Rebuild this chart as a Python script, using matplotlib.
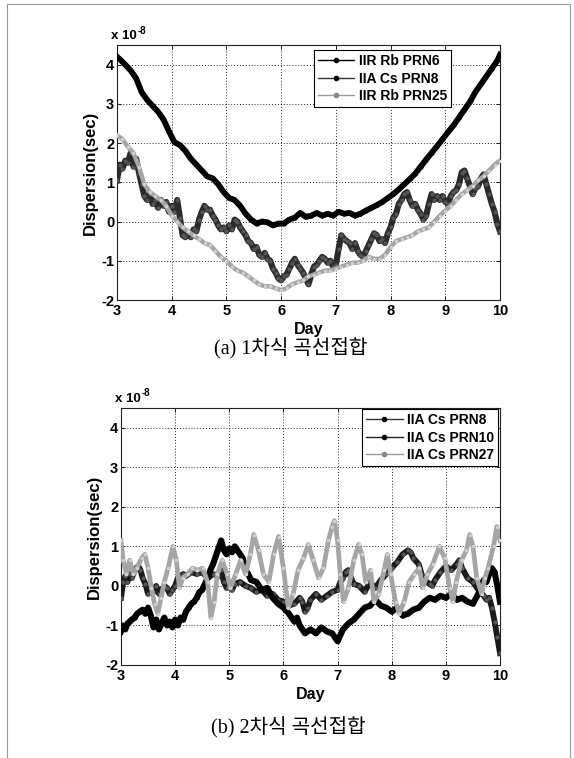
import matplotlib
matplotlib.use("Agg")
import matplotlib.pyplot as plt
from matplotlib.lines import Line2D
from matplotlib.patches import Rectangle

# ---------------- data (units of 1e-8 s) ----------------
day_ticks = [3, 4, 5, 6, 7, 8, 9, 10]
val_ticks = [-2, -1, 0, 1, 2, 3, 4]

# (a) first-order fit
a6_day = [3.00, 3.08, 3.15, 3.25, 3.35, 3.45, 3.55, 3.65, 3.75, 3.85, 3.95, 4.05, 4.15,
          4.25, 4.35, 4.45, 4.55, 4.65, 4.75, 4.85, 4.95, 5.05, 5.15, 5.25, 5.35, 5.45,
          5.55, 5.65, 5.75, 5.85, 5.95, 6.05, 6.15, 6.25, 6.35, 6.45, 6.55, 6.65, 6.75,
          6.85, 6.95, 7.05, 7.15, 7.25, 7.35, 7.45, 7.55, 7.65, 7.75, 7.85, 7.95, 8.05,
          8.15, 8.25, 8.35, 8.45, 8.55, 8.65, 8.75, 8.85, 8.95, 9.05, 9.15, 9.25, 9.35,
          9.45, 9.55, 9.65, 9.75, 9.85, 9.95, 10.00]
a6_val = [4.20, 4.10, 4.00, 3.85, 3.65, 3.30, 3.10, 2.95, 2.80, 2.60, 2.30, 2.02, 1.95,
          1.80, 1.60, 1.45, 1.30, 1.15, 1.10, 0.95, 0.75, 0.60, 0.55, 0.40, 0.20, 0.05,
          -0.05, 0.00, -0.02, -0.10, -0.05, -0.05, 0.05, 0.10, 0.22, 0.12, 0.15, 0.22,
          0.15, 0.20, 0.15, 0.25, 0.20, 0.22, 0.15, 0.20, 0.28, 0.35, 0.42, 0.50, 0.60,
          0.70, 0.82, 0.95, 1.08, 1.22, 1.40, 1.58, 1.75, 1.92, 2.10, 2.28, 2.45, 2.65,
          2.85, 3.05, 3.30, 3.50, 3.70, 3.90, 4.10, 4.25]

a8_day = [3.00, 3.05, 3.10, 3.15, 3.20, 3.25, 3.30, 3.35, 3.40, 3.45, 3.50, 3.55, 3.60,
          3.65, 3.70, 3.75, 3.80, 3.85, 3.90, 3.95, 4.00, 4.05, 4.10, 4.15, 4.20, 4.25,
          4.30, 4.35, 4.40, 4.45, 4.50, 4.55, 4.60, 4.65, 4.70, 4.75, 4.80, 4.85, 4.90,
          4.95, 5.00, 5.05, 5.10, 5.15, 5.20, 5.25, 5.30, 5.35, 5.40, 5.45, 5.50, 5.55,
          5.60, 5.65, 5.70, 5.75, 5.80, 5.85, 5.90, 5.95, 6.00, 6.05, 6.10, 6.15, 6.20,
          6.25, 6.30, 6.35, 6.40, 6.45, 6.50, 6.55, 6.60, 6.65, 6.70, 6.75, 6.80, 6.85,
          6.90, 6.95, 7.00, 7.05, 7.10, 7.15, 7.20, 7.25, 7.30, 7.35, 7.40, 7.45, 7.50,
          7.55, 7.60, 7.65, 7.70, 7.75, 7.80, 7.85, 7.90, 7.95, 8.00, 8.05, 8.10, 8.15,
          8.20, 8.25, 8.30, 8.35, 8.40, 8.45, 8.50, 8.55, 8.60, 8.65, 8.70, 8.75, 8.80,
          8.85, 8.90, 8.95, 9.00, 9.05, 9.10, 9.15, 9.20, 9.25, 9.30, 9.35, 9.40, 9.45,
          9.50, 9.55, 9.60, 9.65, 9.70, 9.75, 9.80, 9.85, 9.90, 9.95, 10.00]
a8_val = [1.05, 1.45, 1.35, 1.55, 1.50, 1.75, 1.40, 1.60, 1.25, 0.95, 0.65, 0.55, 0.70,
          0.45, 0.55, 0.35, 0.55, 0.40, 0.50, 0.25, 0.40, 0.25, 0.55, 0.10, -0.35, -0.40,
          -0.30, -0.40, -0.20, -0.25, 0.05, 0.25, 0.40, 0.30, 0.30, 0.15, 0.05, -0.10,
          -0.20, -0.15, -0.25, -0.10, -0.20, 0.05, 0.00, -0.15, -0.25, -0.35, -0.50, -0.55,
          -0.70, -0.65, -0.85, -0.90, -0.80, -0.95, -1.00, -1.20, -1.30, -1.45, -1.50,
          -1.40, -1.35, -1.20, -1.05, -0.95, -1.10, -1.20, -1.30, -1.45, -1.60, -1.35,
          -1.15, -1.10, -1.00, -0.90, -0.95, -1.05, -1.00, -1.15, -1.10, -0.70, -0.35,
          -0.45, -0.50, -0.55, -0.70, -0.55, -0.75, -0.85, -0.90, -0.75, -0.60, -0.45,
          -0.30, -0.35, -0.50, -0.45, -0.55, -0.30, -0.15, 0.10, 0.20, 0.45, 0.55, 0.70,
          0.75, 0.55, 0.40, 0.45, 0.30, 0.20, 0.05, 0.15, 0.45, 0.70, 0.55, 0.65, 0.55,
          0.65, 0.50, 0.45, 0.65, 0.75, 0.80, 0.95, 1.25, 1.30, 1.10, 0.90, 0.70, 0.85,
          0.90, 1.10, 1.20, 0.95, 0.70, 0.45, 0.25, -0.05, -0.25]

a25_day = [3.00, 3.10, 3.20, 3.30, 3.40, 3.50, 3.60, 3.70, 3.80, 3.90, 4.00, 4.10, 4.20,
           4.30, 4.40, 4.50, 4.60, 4.70, 4.80, 4.90, 5.00, 5.10, 5.20, 5.30, 5.40, 5.50,
           5.60, 5.70, 5.80, 5.90, 6.00, 6.10, 6.20, 6.30, 6.40, 6.50, 6.60, 6.70, 6.80,
           6.90, 7.00, 7.10, 7.20, 7.30, 7.40, 7.50, 7.60, 7.70, 7.80, 7.90, 8.00, 8.10,
           8.20, 8.30, 8.40, 8.50, 8.60, 8.70, 8.80, 8.90, 9.00, 9.10, 9.20, 9.30, 9.40,
           9.50, 9.60, 9.70, 9.80, 9.90, 10.00]
a25_val = [2.20, 2.10, 1.90, 1.75, 1.40, 0.95, 0.75, 0.65, 0.55, 0.40, 0.15, 0.00, -0.15,
           -0.25, -0.35, -0.45, -0.55, -0.60, -0.75, -0.90, -1.00, -1.15, -1.25, -1.30,
           -1.40, -1.50, -1.60, -1.65, -1.65, -1.70, -1.75, -1.70, -1.60, -1.55, -1.50,
           -1.40, -1.35, -1.30, -1.25, -1.25, -1.20, -1.15, -1.10, -1.05, -1.05, -1.00,
           -0.90, -0.95, -0.95, -0.85, -0.65, -0.50, -0.45, -0.40, -0.35, -0.25, -0.20,
           -0.15, 0.00, 0.15, 0.28, 0.40, 0.55, 0.70, 0.80, 0.90, 1.05, 1.15, 1.30, 1.45,
           1.55]

# (b) second-order fit
b8_day = [3.00, 3.04, 3.08, 3.12, 3.16, 3.20, 3.24, 3.28, 3.32, 3.36, 3.40, 3.45, 3.50,
          3.55, 3.60, 3.65, 3.70, 3.75, 3.80, 3.85, 3.90, 3.95, 4.00, 4.05, 4.10, 4.15,
          4.20, 4.30, 4.40, 4.50, 4.60, 4.70, 4.80, 4.85, 4.90, 4.95, 5.00, 5.05, 5.10,
          5.20, 5.30, 5.40, 5.50, 5.60, 5.70, 5.80, 5.90, 6.00, 6.10, 6.20, 6.30, 6.35,
          6.40, 6.45, 6.50, 6.60, 6.70, 6.80, 6.90, 7.00, 7.05, 7.10, 7.15, 7.20, 7.25,
          7.30, 7.40, 7.50, 7.60, 7.70, 7.80, 7.90, 8.00, 8.10, 8.20, 8.30, 8.35, 8.40,
          8.50, 8.55, 8.60, 8.70, 8.75, 8.80, 8.90, 9.00, 9.10, 9.20, 9.25, 9.30, 9.40,
          9.50, 9.60, 9.70, 9.75, 9.80, 9.85, 9.90, 9.95, 10.00]
b8_val = [-0.30, 0.10, 0.25, 0.10, 0.30, 0.20, 0.35, 0.45, 0.50, 0.40, 0.20, 0.05, -0.20,
          -0.05, -0.15, 0.00, -0.20, -0.10, 0.00, -0.05, -0.20, -0.10, 0.00, 0.20, 0.25,
          0.30, 0.25, 0.35, 0.30, 0.35, 0.20, 0.30, 0.25, 0.40, 0.10, -0.05, 0.00, -0.10,
          0.05, 0.10, 0.00, -0.05, -0.15, -0.10, -0.25, -0.20, -0.35, -0.40, -0.50, -0.45,
          -0.30, -0.40, -0.65, -0.55, -0.35, -0.20, -0.35, -0.25, -0.15, -0.10, 0.10, 0.20,
          0.35, 0.40, 0.20, 0.05, 0.00, -0.15, 0.10, -0.05, 0.15, 0.30, 0.45, 0.60, 0.80,
          0.90, 0.85, 0.70, 0.55, 0.30, 0.15, 0.05, 0.00, 0.15, 0.35, 0.50, 0.40, 0.55,
          0.65, 0.45, 0.20, 0.10, -0.10, -0.25, -0.35, -0.30, -0.55, -0.90, -1.30, -1.70]

b10_day = [3.00, 3.04, 3.08, 3.12, 3.16, 3.20, 3.25, 3.30, 3.35, 3.40, 3.45, 3.50, 3.55,
           3.60, 3.65, 3.70, 3.75, 3.80, 3.85, 3.90, 3.95, 4.00, 4.05, 4.10, 4.15, 4.20,
           4.25, 4.30, 4.35, 4.40, 4.45, 4.50, 4.55, 4.60, 4.65, 4.70, 4.75, 4.80, 4.85,
           4.90, 4.95, 5.00, 5.05, 5.10, 5.15, 5.20, 5.25, 5.30, 5.35, 5.40, 5.50, 5.60,
           5.70, 5.80, 5.90, 6.00, 6.10, 6.20, 6.25, 6.30, 6.40, 6.50, 6.60, 6.70, 6.80,
           6.90, 7.00, 7.05, 7.10, 7.20, 7.30, 7.40, 7.50, 7.60, 7.70, 7.80, 7.90, 8.00,
           8.10, 8.20, 8.30, 8.40, 8.50, 8.60, 8.70, 8.80, 8.90, 9.00, 9.10, 9.20, 9.30,
           9.40, 9.50, 9.60, 9.65, 9.70, 9.75, 9.80, 9.85, 9.90, 9.95, 10.00]
b10_val = [-1.15, -1.00, -1.10, -0.95, -0.90, -0.85, -0.80, -0.70, -0.65, -0.60, -0.70,
           -0.55, -0.75, -1.05, -0.85, -1.10, -0.95, -0.80, -1.00, -0.90, -1.05, -0.85,
           -1.00, -0.80, -0.85, -0.65, -0.55, -0.45, -0.40, -0.30, -0.15, -0.10, 0.05, 0.20,
           0.40, 0.55, 0.75, 0.95, 1.15, 0.90, 0.80, 0.95, 0.85, 1.00, 0.90, 0.80, 0.70,
           0.40, 0.30, 0.15, 0.10, -0.10, -0.05, -0.30, -0.45, -0.55, -0.70, -0.90, -0.80,
           -1.00, -1.20, -1.10, -1.20, -1.05, -1.15, -1.20, -1.40, -1.25, -1.10, -0.95,
           -0.85, -0.70, -0.55, -0.50, -0.35, -0.50, -0.55, -0.65, -0.55, -0.75, -0.70,
           -0.60, -0.55, -0.40, -0.30, -0.35, -0.25, -0.30, -0.20, -0.35, -0.30, -0.40,
           -0.45, -0.20, 0.00, 0.15, 0.10, 0.30, 0.45, 0.35, 0.00, -0.40]

b27_day = [3.00, 3.04, 3.10, 3.16, 3.23, 3.29, 3.38, 3.44, 3.50, 3.56, 3.62, 3.68, 3.74,
           3.80, 3.87, 3.96, 4.02, 4.08, 4.14, 4.23, 4.32, 4.41, 4.51, 4.60, 4.66, 4.72,
           4.78, 4.87, 4.96, 5.02, 5.12, 5.21, 5.30, 5.39, 5.45, 5.54, 5.63, 5.73, 5.82,
           5.91, 6.00, 6.09, 6.18, 6.27, 6.37, 6.46, 6.55, 6.65, 6.74, 6.83, 6.90, 6.94,
           7.00, 7.05, 7.11, 7.20, 7.30, 7.39, 7.45, 7.52, 7.61, 7.67, 7.76, 7.86, 7.92,
           7.98, 8.07, 8.14, 8.23, 8.32, 8.42, 8.51, 8.57, 8.66, 8.76, 8.88, 8.98, 9.07,
           9.13, 9.19, 9.29, 9.38, 9.44, 9.50, 9.57, 9.66, 9.72, 9.78, 9.88, 9.94, 10.00]
b27_val = [1.15, 0.65, 0.30, 0.65, 0.30, 0.45, 0.70, 0.80, 0.45, -0.05, -0.45, -0.70,
           -0.30, 0.10, 0.45, 1.00, 0.65, -0.05, 0.20, 0.30, 0.45, 0.40, 0.45, 0.10, -0.80,
           -0.40, 0.30, 0.65, 0.30, -0.05, 0.30, 0.65, 0.30, 0.80, 1.30, 0.90, 0.30, 0.10,
           0.80, 1.25, 0.45, -0.55, -0.20, 0.40, 0.70, 1.05, 0.65, 0.20, 0.45, 1.15, 1.50,
           1.65, 1.15, 0.30, -0.40, -0.05, 0.65, 1.05, 0.80, 0.10, 0.40, -0.40, -0.20, 0.40,
           0.80, 0.30, -0.40, -0.70, -0.40, 0.10, 0.30, 0.45, -0.05, 0.30, 0.55, 1.00, 0.70,
           -0.05, -0.40, 0.10, 0.65, 0.90, 1.30, 1.00, 0.20, -0.20, 0.20, 0.45, 1.00, 1.50,
           1.15]

labels_a = ["IIR Rb PRN6", "IIA Cs PRN8", "IIR Rb PRN25"]
labels_b = ["IIA Cs PRN8", "IIA Cs PRN10", "IIA Cs PRN27"]
caption_a = "(a) 1차식 곡선접합"
caption_b = "(b) 2차식 곡선접합"

# ---------------- styling ----------------
plt.rcParams['font.family'] = ['Liberation Sans', 'DejaVu Sans']
W, H = 574, 758
fig = plt.figure(figsize=(W / 100, H / 100), dpi=100)

def fx(px):
    return px / W

def fy(py):
    return 1 - py / H

BLACK = '#000000'
GRAY = '#a5a5a5'

def setup(ax):
    ax.set_xlim(3, 10)
    ax.set_ylim(-2, 4.5)
    ax.set_xticks(day_ticks)
    ax.set_yticks(val_ticks)
    ax.set_xticklabels([str(t) for t in day_ticks], fontsize=10.5, fontweight='bold')
    ax.set_yticklabels([str(t) for t in val_ticks], fontsize=10.5, fontweight='bold')
    ax.tick_params(direction='in', top=True, right=True, length=3, width=0.6, pad=2)
    ax.tick_params(axis='x', pad=3)
    ax.grid(True, linestyle=(0, (1, 2)), color='#222222', linewidth=0.7)
    for s in ax.spines.values():
        s.set_linewidth(0.8)
        s.set_color('#222222')
    ax.set_xlabel('Day', fontsize=11.5, fontweight='bold', labelpad=3)
    ax.set_ylabel('Dispersion(sec)', fontsize=12, fontweight='bold', labelpad=2)
    ax.text(-0.015, 1.012, 'x 10', transform=ax.transAxes, fontsize=9.5,
            fontweight='bold', ha='left', va='bottom')
    ax.text(0.055, 1.037, '-8', transform=ax.transAxes, fontsize=7,
            fontweight='bold', ha='left', va='bottom')

def legend(ax, labels, colors, anchor):
    handles = [Line2D([0], [0], color=c, lw=1.0, marker='.', markersize=6,
                      markerfacecolor=mc, markeredgecolor=mc)
               for c, mc in colors]
    lg = ax.legend(handles, labels, loc='upper right', bbox_to_anchor=anchor,
                   bbox_transform=fig.transFigure, fancybox=False, framealpha=1,
                   edgecolor='black', prop={'weight': 'bold', 'size': 10},
                   handlelength=2.6, handletextpad=0.3, labelspacing=0.25,
                   borderpad=0.3, borderaxespad=0)
    lg.get_frame().set_linewidth(0.8)
    lg.set_zorder(10)

# ---------- panel (a) ----------
ax1 = fig.add_axes([fx(117), fy(300), fx(500) - fx(117), fy(45) - fy(300)])
ax1.plot(a6_day, a6_val, color=BLACK, lw=4.2, marker='.', markersize=4, zorder=3)
ax1.plot(a8_day, a8_val, color='#2a2a2a', lw=4.4, marker='.', markersize=4,
         markerfacecolor='#555555', markeredgecolor='#555555', zorder=3)
ax1.plot(a25_day, a25_val, color=GRAY, lw=3.2, marker='.', markersize=3,
         markerfacecolor='#d0d0d0', markeredgecolor='#d0d0d0', zorder=3)
setup(ax1)
legend(ax1, labels_a, [(BLACK, BLACK), ('#333333', BLACK), ('#9a9a9a', '#888888')],
       (fx(451), fy(50)))

# ---------- panel (b) ----------
ax2 = fig.add_axes([fx(121), fy(665), fx(500) - fx(121), fy(408) - fy(665)])
ax2.plot(b8_day, b8_val, color='#1a1a1a', lw=4.2, marker='.', markersize=4,
         markerfacecolor='#555555', markeredgecolor='#555555', zorder=3)
ax2.plot(b10_day, b10_val, color=BLACK, lw=4.4, marker='.', markersize=4, zorder=3)
ax2.plot(b27_day, b27_val, color=GRAY, lw=3.4, marker='.', markersize=3,
         markerfacecolor='#d0d0d0', markeredgecolor='#d0d0d0', zorder=3)
setup(ax2)
legend(ax2, labels_b, [('#333333', BLACK), ('#222222', BLACK), ('#9a9a9a', '#888888')],
       (fx(498), fy(409)))

# ---------- captions ----------
cap_font = ['Liberation Serif', 'Noto Sans CJK KR']
fig.text(fx(291), fy(349), caption_a, family=cap_font, fontsize=14.5,
         ha='center', va='center')
fig.text(fx(288), fy(728), caption_b, family=cap_font, fontsize=14.5,
         ha='center', va='center')

# outer frame
fig.patches.append(Rectangle((fx(7), -0.01), fx(570) - fx(7), fy(4) + 0.01,
                             transform=fig.transFigure, fill=False,
                             edgecolor='#9a9a9a', linewidth=0.8))

fig.savefig('out.png', dpi=100)
